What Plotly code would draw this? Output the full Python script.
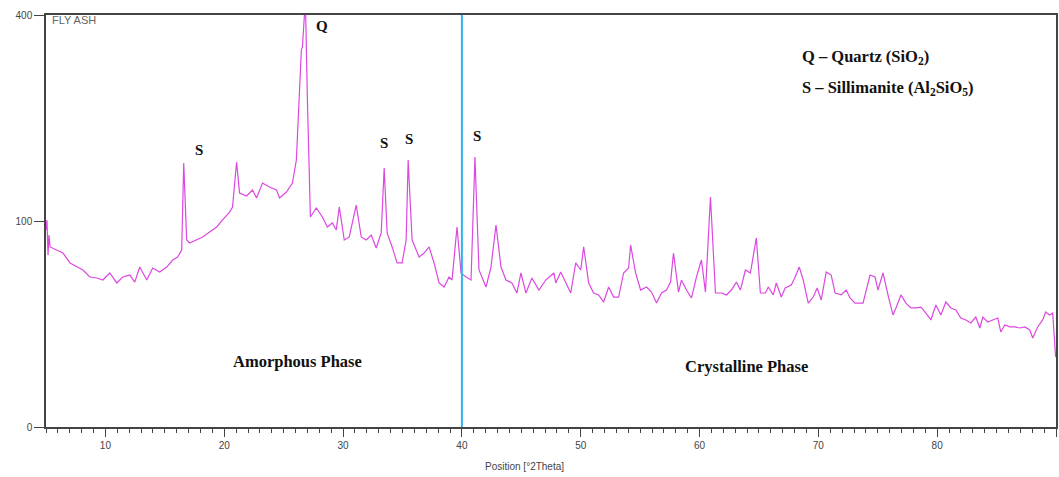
import numpy as np
import plotly.graph_objects as go

# XRD pattern of fly ash (2theta in degrees, intensity in counts)
two_theta = [5.00, 5.08, 5.17, 5.25, 5.34, 5.92, 6.43, 7.02, 7.60, 8.11, 8.69, 9.28, 9.79,
             10.37, 10.96, 11.46, 12.05, 12.47, 12.89, 13.48, 13.98, 14.57, 15.16, 15.66,
             16.08, 16.42, 16.59, 16.84, 17.09, 17.68, 18.18, 18.77, 19.36, 19.86, 20.45,
             20.70, 21.04, 21.29, 21.88, 22.38, 22.72, 23.22, 23.81, 24.40, 24.65, 25.23,
             25.74, 26.07, 26.33, 26.49, 26.58, 26.75, 26.83, 27.00, 27.17, 27.25, 27.75,
             28.26, 28.68, 29.10, 29.43, 29.68, 30.10, 30.52, 31.11, 31.53, 31.95, 32.37,
             32.79, 33.21, 33.46, 33.71, 34.13, 34.55, 34.97, 35.31, 35.48, 35.81, 36.40,
             36.82, 37.24, 37.66, 38.08, 38.50, 38.92, 39.17, 39.59, 39.93, 40.35, 40.77,
             41.10, 41.44, 42.03, 42.45, 42.87, 43.29, 43.71, 44.21, 44.63, 44.97, 45.39,
             45.89, 46.48, 47.06, 47.74, 47.90, 48.32, 48.74, 49.16, 49.58, 50.00, 50.25,
             50.67, 51.09, 51.51, 51.93, 52.35, 52.77, 53.19, 53.61, 54.03, 54.20, 54.62,
             55.04, 55.54, 55.96, 56.38, 56.80, 57.22, 57.56, 57.81, 58.23, 58.48, 58.90,
             59.32, 59.74, 60.16, 60.50, 60.75, 60.92, 61.34, 61.84, 62.26, 62.68, 63.10,
             63.44, 63.86, 64.28, 64.78, 65.12, 65.54, 65.79, 66.21, 66.46, 66.88, 67.21,
             67.72, 68.05, 68.39, 68.73, 69.15, 69.57, 69.90, 70.24, 70.66, 71.08, 71.41,
             71.92, 72.34, 72.67, 73.09, 73.76, 74.35, 74.77, 75.02, 75.44, 75.86, 76.28,
             76.53, 76.95, 77.37, 77.79, 78.21, 78.63, 79.05, 79.47, 79.89, 80.31, 80.73,
             81.15, 81.57, 81.99, 82.41, 82.83, 83.25, 83.59, 83.84, 84.26, 84.68, 85.10,
             85.35, 85.69, 86.11, 86.53, 86.95, 87.37, 87.79, 88.04, 88.46, 88.88, 89.13,
             89.46, 89.72, 89.88, 89.97]

counts = [91.5, 101.0, 69.7, 86.9, 76.4, 73.8, 71.3, 63.4, 60.3, 58.1, 53.0, 52.3, 50.9,
          55.9, 48.9, 53.0, 54.4, 49.5, 60.3, 50.9, 59.6, 56.6, 60.3, 65.7,
          68.1, 73.8, 164.2, 82.4, 79.8, 82.4, 85.1, 89.6, 94.3, 101.0, 108.9,
          114.1, 165.5, 129.0, 125.7, 132.4, 123.6, 140.3, 135.7, 132.4, 123.6, 130.1,
          140.3, 168.0, 278.9, 334.9, 340.3, 403.9, 430.0, 252.0, 121.4, 103.9, 113.0,
          103.9, 94.3, 98.1, 91.5, 114.1, 82.4, 85.1, 116.1, 85.1, 82.4, 86.9,
          75.5, 88.7, 158.1, 88.7, 76.4, 63.4, 63.4, 82.4, 168.0, 82.4, 68.1,
          71.3, 76.4, 63.4, 48.9, 46.2, 53.0, 50.9, 94.3, 55.9, 53.0, 50.9,
          171.8, 58.1, 46.2, 60.3, 96.2, 60.3, 50.9, 48.9, 42.3, 55.9, 42.3,
          52.3, 44.2, 50.9, 55.9, 48.9, 56.6, 48.9, 42.3, 63.4, 58.1, 76.4,
          48.9, 42.3, 41.1, 36.8, 46.2, 39.8, 39.8, 55.9, 59.6, 78.1, 55.9,
          44.2, 46.2, 42.9, 36.2, 42.3, 44.2, 49.5, 71.3, 42.9, 50.9, 44.2,
          39.2, 53.0, 65.7, 42.9, 82.4, 124.7, 42.3, 42.3, 41.1, 44.2, 49.5,
          44.2, 58.1, 55.9, 84.2, 42.3, 42.3, 46.2, 41.1, 48.9, 39.8, 45.5,
          47.5, 53.0, 60.3, 50.9, 36.2, 39.8, 45.5, 38.0, 56.6, 54.4, 42.3,
          41.1, 44.2, 39.2, 36.2, 36.2, 54.4, 53.0, 44.2, 55.9, 41.1, 29.6,
          33.4, 41.1, 36.2, 33.4, 33.4, 33.9, 30.6, 27.0, 35.1, 29.6, 36.8,
          33.4, 32.3, 28.0, 27.0, 25.5, 28.5, 23.1, 28.5, 26.0, 27.0, 28.0,
          21.3, 24.5, 23.6, 23.6, 23.1, 23.6, 22.2, 18.7, 23.6, 27.0, 31.2,
          29.6, 30.6, 17.8, 11.5]

y_tick_values = [0, 100, 400]
y_tick_labels = ["0", "100", "400"]
x_tick_values = [10, 20, 30, 40, 50, 60, 70, 80, 90]
x_range = [5, 90]
phase_boundary = 40

peak_labels = ["Q", "S", "S", "S", "S"]
peak_label_pos = [(0.273, 0.973), (0.151, 0.672), (0.335, 0.689), (0.359, 0.699), (0.427, 0.706)]

fig = go.Figure()
fig.add_trace(go.Scatter(
    x=two_theta, y=np.sqrt(counts), mode="lines",
    line=dict(color="#dc48e0", width=1.2), showlegend=False, hoverinfo="skip"))

fig.add_shape(type="line", xref="x", yref="paper", x0=phase_boundary, x1=phase_boundary,
              y0=0, y1=1, line=dict(color="#2bb5ee", width=2))

serif = "Liberation Serif"
narrow = "Liberation Sans Narrow, Liberation Sans, Arial"
ann = []
for t, (px, py) in zip(peak_labels, peak_label_pos):
    ann.append(dict(text=f"<b>{t}</b>", x=px, y=py, xref="paper", yref="paper",
                    xanchor="center", yanchor="middle",
                    showarrow=False, font=dict(family=serif, size=15, color="#111")))
ann.append(dict(text="FLY ASH", x=0.004, y=0.988, xref="paper", yref="paper",
                xanchor="left", yanchor="middle",
                showarrow=False, font=dict(family=narrow, size=11, color="#666")))
ann.append(dict(text="<b>Q – Quartz (SiO<sub>2</sub>)</b>", x=0.747, y=0.898, xref="paper",
                yref="paper", xanchor="left", yanchor="middle", showarrow=False,
                font=dict(family=serif, size=16.5, color="#111")))
ann.append(dict(text="<b>S – Sillimanite (Al<sub>2</sub>SiO<sub>5</sub>)</b>", x=0.747, y=0.823,
                xref="paper", yref="paper", xanchor="left", yanchor="middle", showarrow=False,
                font=dict(family=serif, size=16.5, color="#111")))
ann.append(dict(text="<b>Amorphous Phase</b>", x=0.249, y=0.158, xref="paper", yref="paper",
                xanchor="center", yanchor="middle",
                showarrow=False, font=dict(family=serif, size=16.5, color="#111")))
ann.append(dict(text="<b>Crystalline Phase</b>", x=0.694, y=0.148, xref="paper", yref="paper",
                xanchor="center", yanchor="middle",
                showarrow=False, font=dict(family=serif, size=16.5, color="#111")))
ann.append(dict(text="Position [°2Theta]", x=0.474, y=-0.097, xref="paper", yref="paper",
                xanchor="center", yanchor="middle", showarrow=False,
                font=dict(family=narrow, size=10, color="#444")))

fig.update_layout(
    width=1059, height=477,
    margin=dict(l=46, r=1, t=15, b=50),
    paper_bgcolor="white", plot_bgcolor="white",
    annotations=ann,
    xaxis=dict(range=x_range, tickvals=x_tick_values, ticks="outside", ticklen=8,
               tickcolor="#444", showline=True, linecolor="#444", linewidth=1.5, mirror=True,
               showgrid=False, zeroline=False,
               tickfont=dict(family=narrow, size=10, color="#444"),
               minor=dict(dtick=1, ticks="outside", ticklen=4, tickcolor="#444")),
    yaxis=dict(range=[0, np.sqrt(400)], tickvals=np.sqrt(y_tick_values).tolist(),
               ticktext=y_tick_labels, ticks="outside", ticklen=10, tickcolor="#444",
               showline=True, linecolor="#444", linewidth=1.5, mirror=True,
               showgrid=False, zeroline=False,
               tickfont=dict(family=narrow, size=10, color="#444")),
)

fig.write_html("out.html", config={"displayModeBar": False},
               post_script="document.body.style.margin='0';")
